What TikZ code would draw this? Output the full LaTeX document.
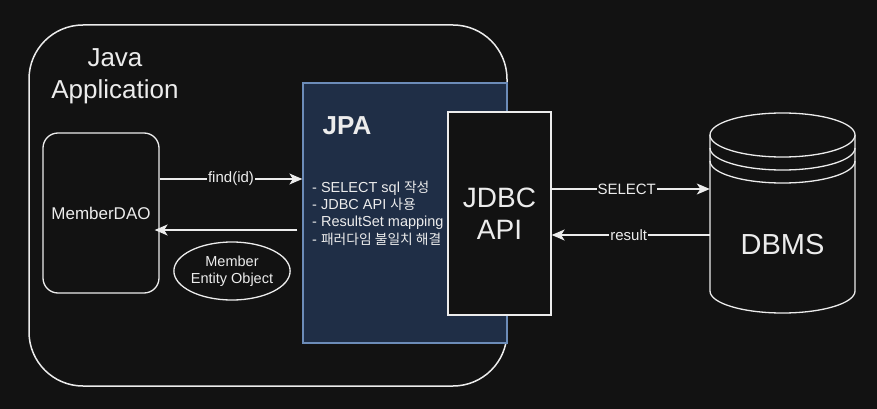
\documentclass[tikz,border=0pt]{standalone}
\usepackage{fontspec}
\setmainfont{Liberation Sans}
\newfontfamily\kr[Scale=0.95]{Noto Sans CJK KR}
\usetikzlibrary{arrows.meta,shapes.geometric}
\definecolor{bg}{RGB}{18,18,18}
\definecolor{ln}{RGB}{236,236,236}
\definecolor{jpafill}{RGB}{31,46,70}
\definecolor{jpaline}{RGB}{108,140,184}
\tikzset{
  wire/.style={draw=ln, line width=1.3pt},
  arr/.style={wire, -{Stealth[length=13pt,width=11pt,inset=3.5pt]}},
  lbl/.style={fill=bg, text=ln, inner sep=1pt, font=\fontsize{15}{18}\selectfont},
  txt/.style={text=ln, inner sep=0pt},
}
\begin{document}
\begin{tikzpicture}[x=1pt,y=-1pt]
\useasboundingbox (0,0) rectangle (877,409);
\fill[bg] (0,0) rectangle (877,409);
% outer application box
\draw[wire, line width=1.5pt, rounded corners=54pt] (29,25) rectangle (507,386);
\node[txt, align=center, font=\fontsize{26}{32}\selectfont] (app) at (115,76) {Java\\Application};
% JPA box
\node[draw=jpaline, fill=jpafill, line width=1.3pt, minimum width=204pt, minimum height=260pt, inner sep=0pt] (jpa) at (405,213) {};
\node[txt, font=\bfseries\fontsize{26}{30}\selectfont] (jpat) at (347,126) {JPA};
\node[txt, anchor=west, align=left, font=\fontsize{14.5}{17.3}\selectfont] (list) at (312,213)
  {- SELECT sql {\kr 작성}\\- JDBC API {\kr 사용}\\- ResultSet mapping\\- {\kr 패러다임 불일치 해결}};
% JDBC API box
\node[draw=ln, fill=bg, line width=1.3pt, minimum width=103pt, minimum height=203pt, inner sep=0pt,
      text=ln, align=center, font=\fontsize{28}{32}\selectfont] (jdbc) at (499.5,213.5) {JDBC\\API};
% MemberDAO
\node[draw=ln, line width=1.3pt, rounded corners=15pt, minimum width=116pt, minimum height=160pt, inner sep=0pt,
      text=ln, font=\fontsize{17}{20}\selectfont] (dao) at (101,213) {MemberDAO};
% entity ellipse
\node[draw=ln, ellipse, line width=1.3pt, minimum width=100pt, minimum height=58pt, inner sep=0pt,
      text=ln, align=center, font=\fontsize{14.5}{17.5}\selectfont] (ent) at (232,271) {Member\\Entity Object};
% DBMS cylinder
\node[minimum width=145pt, minimum height=200pt, inner sep=0pt] (db) at (782.5,213) {};
\draw[wire, fill=bg] (710,135) -- (710,291) arc[start angle=180, end angle=0, x radius=72.5, y radius=22] -- (855,135);
\draw[wire, fill=bg] (782.5,135) ellipse [x radius=72.5, y radius=22];
\draw[wire] (710,148) arc[start angle=180, end angle=0, x radius=72.5, y radius=22];
\draw[wire] (710,161) arc[start angle=180, end angle=0, x radius=72.5, y radius=22];
\node[txt, font=\fontsize{29}{32}\selectfont] (dbt) at (782.5,245) {DBMS};
% connectors
\draw[arr] (dao.east |- 0,179) -- node[lbl] {find(id)} (jpa.west |- 0,179);
\draw[arr] ([xshift=-5pt]jpa.west |- 0,230) -- ([xshift=-5pt]dao.east |- 0,230);
\draw[arr] (jdbc.east |- 0,189) -- node[lbl, xshift=-4pt] {SELECT} (db.west |- 0,189);
\draw[arr] (db.west |- 0,235) -- node[lbl, xshift=-2pt] {result} (jdbc.east |- 0,235);
\end{tikzpicture}
\end{document}
